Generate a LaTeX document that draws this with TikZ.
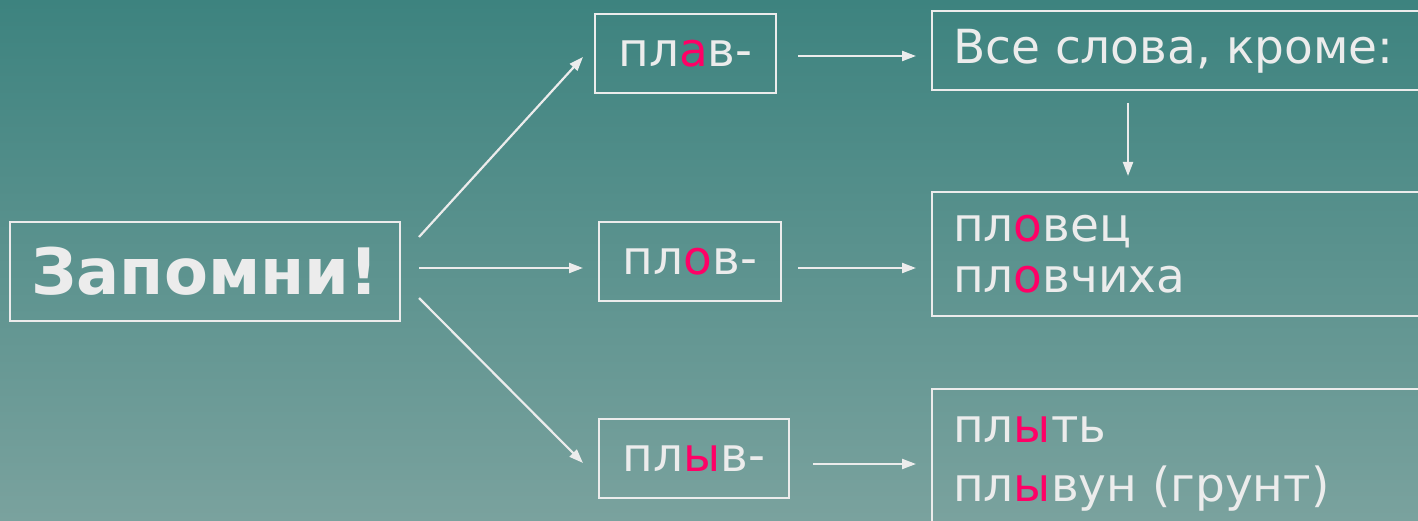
\documentclass[tikz,border=0pt]{standalone}
\usepackage{fontspec}
\setmainfont{DejaVu Sans}
\usetikzlibrary{arrows.meta,calc}
\definecolor{bgtop}{RGB}{61,131,127}
\definecolor{bgbot}{RGB}{122,162,158}
\definecolor{fg}{RGB}{236,236,236}
\definecolor{hl}{RGB}{255,0,102}
\newcommand{\hlx}[1]{\textcolor{hl}{#1}}
\tikzset{
  box/.style={draw=fg, line width=2pt, inner sep=0pt, text=fg},
  lbl/.style={text=fg, inner sep=0pt, font=\fontsize{47}{50}\selectfont},
  arr/.style={draw=fg, line width=2.2pt, -{Triangle[length=14pt,width=10pt]}},
}
\begin{document}
\begin{tikzpicture}[x=1pt,y=-1pt]
\useasboundingbox (0,0) rectangle (1418,521);
\clip (0,0) rectangle (1418,521);
\shade[top color=bgtop, bottom color=bgbot] (0,0) rectangle (1418,521);

% boxes
\node[box, minimum width=390pt, minimum height=99pt, font=\fontsize{64}{70}\selectfont\bfseries] (zap) at (205,271.5) {Запомни!};
\node[box, minimum width=181pt, minimum height=79pt, font=\fontsize{47}{50}\selectfont] (plav) at (685.5,53.5) {пл\hlx{а}в-};
\node[box, minimum width=182pt, minimum height=79pt, font=\fontsize{47}{50}\selectfont] (plov) at (690,261.5) {пл\hlx{о}в-};
\node[box, minimum width=190pt, minimum height=79pt, font=\fontsize{47}{50}\selectfont] (plyv) at (694,458.5) {пл\hlx{ы}в-};
\node[box, minimum width=508pt, minimum height=79pt] (vse) at (1186,50.5) {};
\node[box, minimum width=508pt, minimum height=124pt] (plovec) at (1186,254) {};
\node[box, minimum width=508pt, minimum height=151pt] (plyt) at (1186,464.5) {};

% texts in right boxes
\node[lbl, anchor=base west] (tvse) at (953,64) {Все слова, кроме:};
\node[lbl, anchor=base west] (tplovec) at (953,242) {пл\hlx{о}вец};
\node[lbl, anchor=base west] (tplovch) at (953,292) {пл\hlx{о}вчиха};
\node[lbl, anchor=base west] (tplyt) at (953,442) {пл\hlx{ы}ть};
\node[lbl, anchor=base west] (tplyvun) at (953,501) {пл\hlx{ы}вун (грунт)};

% connectors
\draw[arr] ($(zap.east)+(18,-34.5)$) -- ($(plav.west)+(-11,3.5)$);
\draw[arr] ($(zap.east)+(18,-3.5)$) -- ($(plov.west)+(-15,6.5)$);
\draw[arr] ($(zap.east)+(18,26.5)$) -- ($(plyv.west)+(-15,4.5)$);
\draw[arr] ($(plav.east)+(21,2.5)$) -- ($(vse.west)+(-15,5.5)$);
\draw[arr] ($(plov.east)+(16,6.5)$) -- ($(plovec.west)+(-15,14)$);
\draw[arr] ($(plyv.east)+(23,5.5)$) -- ($(plyt.west)+(-15,-0.5)$);
\draw[arr] ($(vse.south west)+(197,12)$) -- ($(plovec.north west)+(197,-15)$);
\end{tikzpicture}
\end{document}
